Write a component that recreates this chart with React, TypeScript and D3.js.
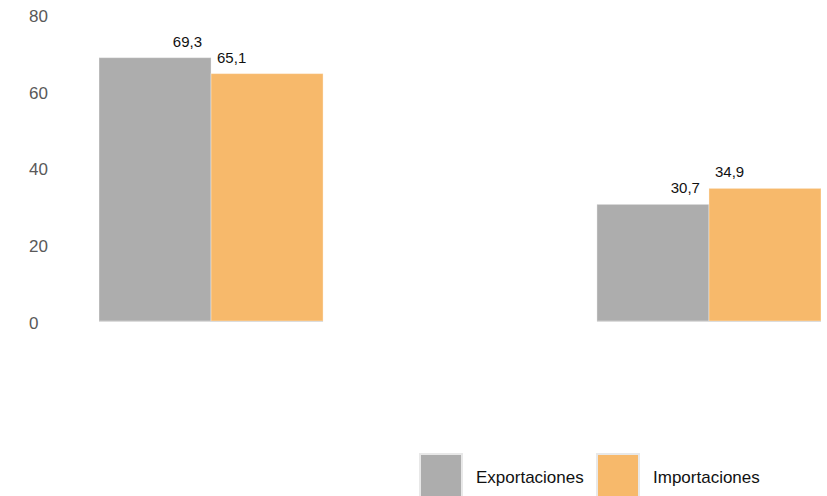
import React, { useEffect, useRef } from 'react';
import * as d3 from 'd3';

const categories = ['Grupo A', 'Grupo B'];
const seriesNames = ['Exportaciones', 'Importaciones'];
const exportaciones = [69.3, 30.7];
const importaciones = [65.1, 34.9];
const yTicks = [0, 20, 40, 60, 80];
const colors = ['#adadad', '#f7b96b'];

const width = 827;
const height = 496;

const fmt = (v: number) => v.toFixed(1).replace('.', ',');

export default function App() {
  const svgRef = useRef<SVGSVGElement>(null);

  useEffect(() => {
    if (!svgRef.current) return;
    const svg = d3.select(svgRef.current);
    svg.selectAll('*').remove();
    const font = 'Arial, "Liberation Sans", sans-serif';

    const x = d3.scaleBand<string>()
      .domain(categories)
      .range([99, 821])
      .paddingInner(0.55)
      .paddingOuter(0);

    const xs = d3.scaleBand<string>()
      .domain(seriesNames)
      .range([0, x.bandwidth()]);

    const y = d3.scaleLinear().domain([0, 80]).range([321, 17]);
    // tick labels sit on a slightly taller span than the bars
    const yLabel = d3.scaleLinear().domain([0, 80]).range([322.5, 16]);

    // y tick labels, no gridlines
    svg.append('g')
      .selectAll('text')
      .data(yTicks)
      .enter()
      .append('text')
      .attr('x', 29)
      .attr('y', (d) => yLabel(d))
      .attr('dy', '0.36em')
      .style('font-family', font)
      .style('font-size', '17px')
      .style('fill', '#595959')
      .text((d) => d);

    const series = [exportaciones, importaciones];

    const groups = svg.append('g')
      .selectAll('g.cat')
      .data(categories)
      .enter()
      .append('g')
      .attr('class', 'cat')
      .attr('transform', (d) => `translate(${x(d)},0)`);

    groups.each(function (cat, ci) {
      const g = d3.select(this);
      seriesNames.forEach((name, si) => {
        const v = series[si][ci];
        const bx = xs(name)!;
        g.append('rect')
          .attr('x', bx)
          .attr('y', y(v))
          .attr('width', xs.bandwidth())
          .attr('height', y(0) - y(v))
          .attr('fill', colors[si])
          .attr('stroke', 'rgba(255,255,255,0.35)')
          .attr('stroke-width', 1);

        g.append('text')
          .attr('x', si === 0 ? bx + xs.bandwidth() - 9 : bx + 6)
          .attr('y', y(v) - 11)
          .attr('text-anchor', si === 0 ? 'end' : 'start')
          .style('font-family', font)
          .style('font-size', '15px')
          .style('fill', '#111')
          .text(fmt(v));
      });

      // light baseline under the group only
      g.append('line')
        .attr('x1', 0)
        .attr('x2', x.bandwidth())
        .attr('y1', y(0) + 0.5)
        .attr('y2', y(0) + 0.5)
        .attr('stroke', '#dcdcdc')
        .attr('stroke-width', 1);
    });

    // legend
    const legendX = [420, 597];
    const legend = svg.append('g')
      .selectAll('g.leg')
      .data(seriesNames)
      .enter()
      .append('g')
      .attr('class', 'leg')
      .attr('transform', (_, i) => `translate(${legendX[i]},454)`);

    legend.append('rect')
      .attr('width', 42)
      .attr('height', 46)
      .attr('fill', (_, i) => colors[i])
      .attr('stroke', '#e8e8e8')
      .attr('stroke-width', 2);

    legend.append('text')
      .attr('x', 56)
      .attr('y', 29)
      .style('font-family', font)
      .style('font-size', '17px')
      .style('fill', '#111')
      .text((d) => d);
  }, []);

  return (
    <div style={{ position: 'absolute', left: 0, top: 0 }}>
      <svg ref={svgRef} width={width} height={height} style={{ display: 'block', background: '#fff' }} />
    </div>
  );
}
